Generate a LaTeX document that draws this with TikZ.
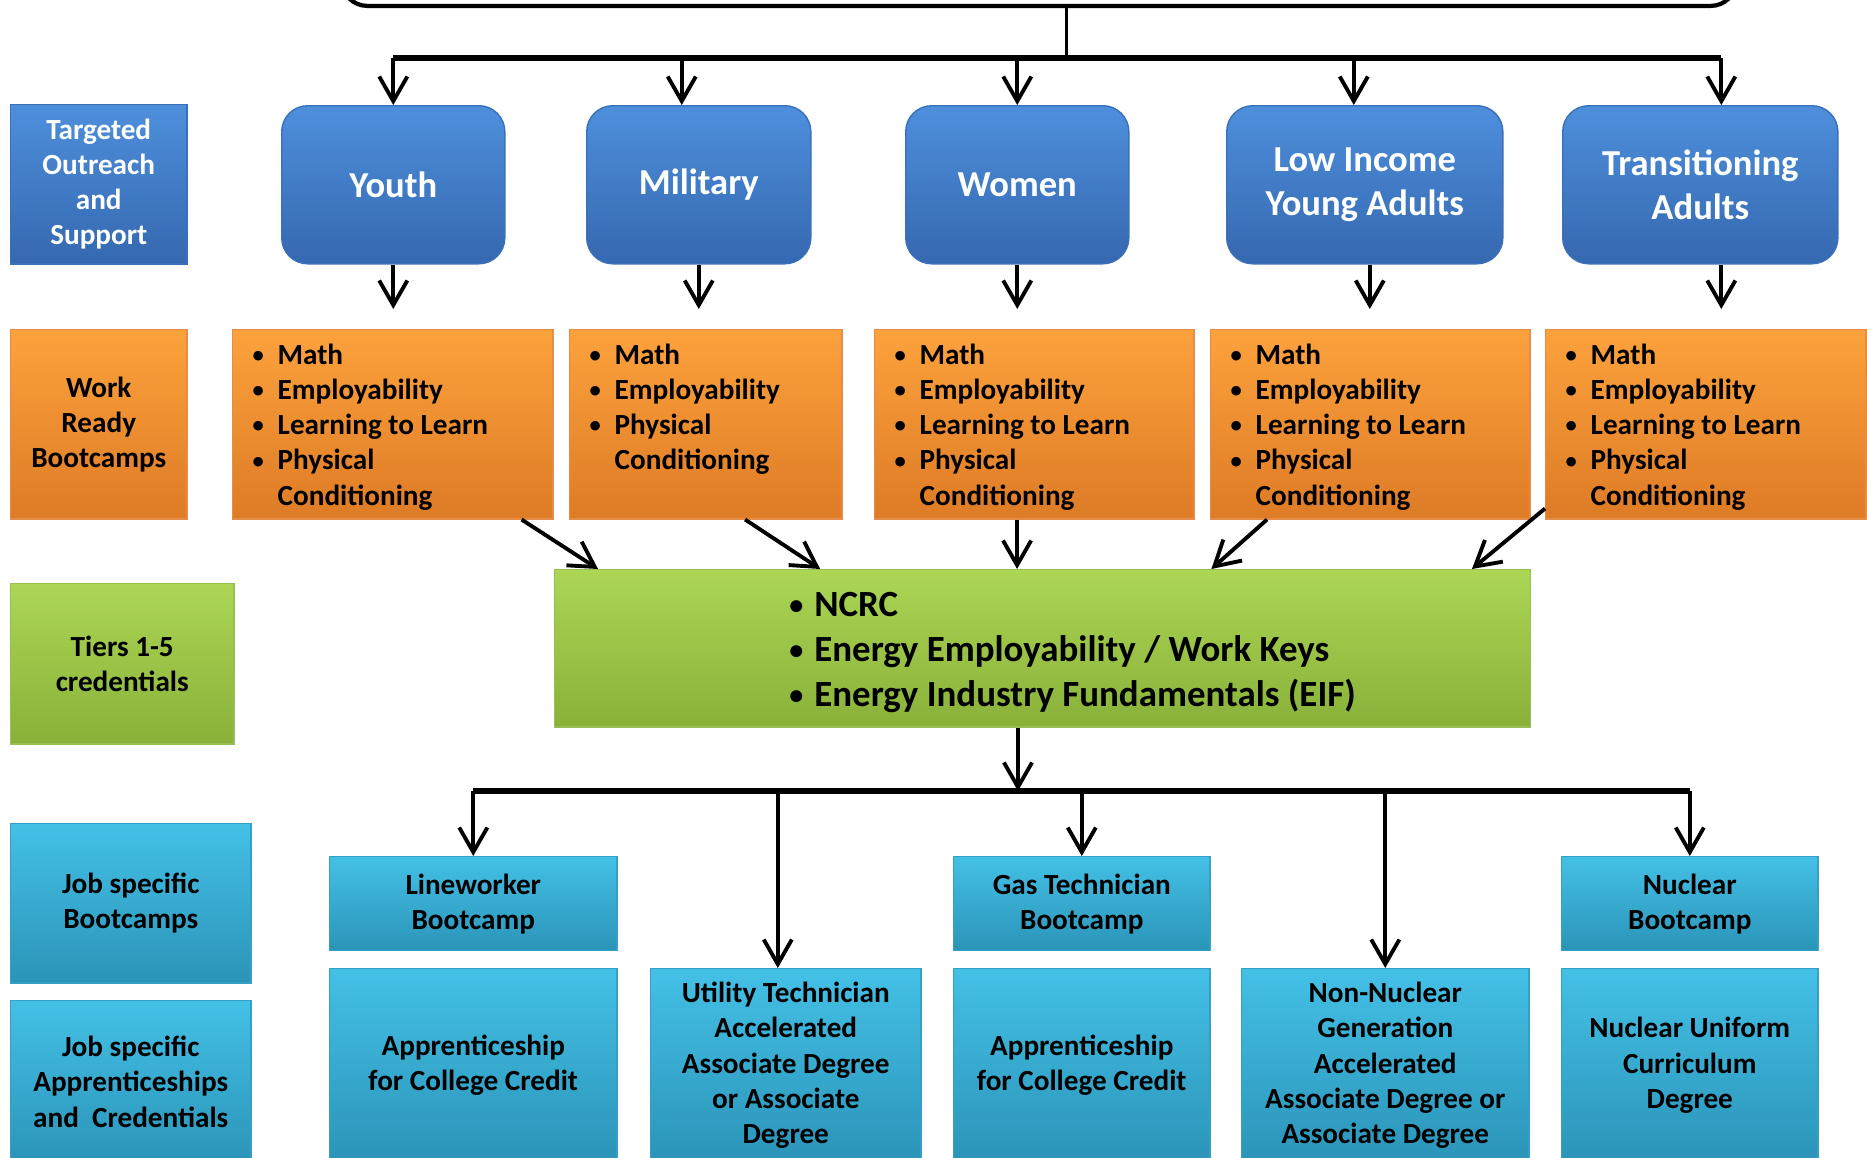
\documentclass[tikz,border=0pt]{standalone}
\usepackage{fontspec}
\setmainfont{Carlito}
\usepackage{tikz}
\usetikzlibrary{calc,arrows.meta}

\definecolor{grpA}{RGB}{78,143,220}
\definecolor{grpB}{RGB}{53,104,176}
\definecolor{grpE}{RGB}{58,112,184}
\definecolor{ornA}{RGB}{252,162,60}
\definecolor{ornB}{RGB}{222,123,38}
\definecolor{ornE}{RGB}{228,140,72}
\definecolor{grnA}{RGB}{172,214,84}
\definecolor{grnB}{RGB}{137,177,58}
\definecolor{grnE}{RGB}{150,190,82}
\definecolor{cynA}{RGB}{68,192,230}
\definecolor{cynB}{RGB}{43,148,184}
\definecolor{cynE}{RGB}{52,160,200}

% small bullet, as in the slide
\newcommand{\bul}{\makebox[7.1pt][l]{\raisebox{0.5pt}{\fontsize{6.4}{6.4}\selectfont\textbullet}}}
\newcommand{\bigbul}{\makebox[7.1pt][l]{\raisebox{0.6pt}{\fontsize{8}{8}\selectfont\textbullet}}}

\newcommand{\skillsfour}{\begin{tabular}{@{}l@{}l@{}}
\bul & Math\\
\bul & Employability\\
\bul & Learning to Learn\\
\bul & Physical\\
 & Conditioning
\end{tabular}}
\newcommand{\skillsthree}{\begin{tabular}{@{}l@{}l@{}}
\bul & Math\\
\bul & Employability\\
\bul & Physical\\
 & Conditioning
\end{tabular}}

\begin{document}
\begin{tikzpicture}[x=0.01cm, y=-0.01cm,
    boxsize/.style 2 args={minimum width=#1, minimum height=#2, anchor=north west, inner sep=0pt},
    small/.style={font=\fontsize{8.3}{10}\selectfont\bfseries, align=center},
    big/.style={font=\fontsize{10.4}{12.6}\selectfont\bfseries, align=center},
    grp/.style={big, rounded corners=0.26cm, top color=grpA, bottom color=grpB, draw=grpE, thin, text=white},
    side/.style={small, top color=grpA, bottom color=grpB, draw=grpE, thin, text=white},
    orng/.style={small, top color=ornA, bottom color=ornB, draw=ornE, thin},
    grn/.style={small, top color=grnA, bottom color=grnB, draw=grnE, thin},
    cyn/.style={small, top color=cynA, bottom color=cynB, draw=cynE, thin},
    lst/.style={small, inner sep=0pt, anchor=north west},
    stem/.style={line width=1.1pt},
    arr/.style={line width=1.1pt, -{Straight Barb[length=7pt, width=8pt]}},
  ]
    \useasboundingbox (0,0) rectangle (1867,1157);
    \clip (0,0) rectangle (1867,1157);

    % programme box, only its bottom edge shows
    \node[draw, line width=1.2pt, rounded corners=0.25cm, boxsize={13.93cm}{1cm}, anchor=south west] (prog) at (340,8) {};

    % left column
    \node[side, boxsize={1.76cm}{1.59cm}] (side1) at (10,104) {Targeted\\Outreach\\and\\Support};
    \node[orng, boxsize={1.76cm}{1.89cm}] (side2) at (10,329) {Work\\Ready\\Bootcamps};
    \node[grn, boxsize={2.23cm}{1.60cm}] (side3) at (10,583) {Tiers 1-5\\credentials};
    \node[cyn, boxsize={2.40cm}{1.59cm}] (side4) at (10,823) {Job specific\\Bootcamps};
    \node[cyn, boxsize={2.40cm}{1.62cm}] (side5) at (10,1000) {Job specific\\Apprenticeships\\and\ \ Credentials};

    % target groups
    \node[grp, boxsize={2.23cm}{1.58cm}] (youth) at (281,105) {Youth};
    \node[grp, boxsize={2.24cm}{1.58cm}] (military) at (586,105) {Military};
    \node[grp, boxsize={2.23cm}{1.58cm}] (women) at (905,105) {Women};
    \node[grp, boxsize={2.76cm}{1.58cm}] (lowinc) at (1226,105) {Low Income\\Young Adults};
    \node[grp, boxsize={2.75cm}{1.58cm}] (trans) at (1562,105) {Transitioning\\Adults};

    % bootcamp contents
    \node[orng, boxsize={3.20cm}{1.89cm}] (youthl) at (232,329) {};
    \node[orng, boxsize={2.72cm}{1.89cm}] (miltl) at (569,329) {};
    \node[orng, boxsize={3.19cm}{1.89cm}] (womenl) at (874,329) {};
    \node[orng, boxsize={3.19cm}{1.89cm}] (lowl) at (1210,329) {};
    \node[orng, boxsize={3.20cm}{1.89cm}] (transl) at (1545,329) {};
    \node[lst] (youtht) at ([xshift=0.2cm,yshift=-0.1cm]youthl.north west) {\skillsfour};
    \node[lst] (miltt) at ([xshift=0.2cm,yshift=-0.1cm]miltl.north west) {\skillsthree};
    \node[lst] (woment) at ([xshift=0.2cm,yshift=-0.1cm]womenl.north west) {\skillsfour};
    \node[lst] (lowt) at ([xshift=0.2cm,yshift=-0.1cm]lowl.north west) {\skillsfour};
    \node[lst] (transt) at ([xshift=0.2cm,yshift=-0.1cm]transl.north west) {\skillsfour};

    % credentials
    \node[grn, boxsize={9.75cm}{1.57cm}] (green) at (554,569) {};
    \node[font=\fontsize{10.5}{12.8}\selectfont\bfseries, inner sep=0pt] (greent) at ([xshift=0.3cm,yshift=-0.04cm]green.center)
      {\begin{tabular}{@{}l@{}l@{}}
        \bigbul & NCRC\\
        \bigbul & Energy Employability / Work Keys\\
        \bigbul & Energy Industry Fundamentals (EIF)
      \end{tabular}};

    % job specific paths
    \node[cyn, boxsize={2.87cm}{0.94cm}] (linew) at (329,856) {Lineworker\\Bootcamp};
    \node[cyn, boxsize={2.87cm}{1.93cm}] (appl) at (329,968) {Apprenticeship\\for College Credit};
    \node[cyn, boxsize={2.70cm}{1.93cm}] (util) at (650,968) {Utility Technician\\Accelerated\\Associate Degree\\or Associate\\Degree};
    \node[cyn, boxsize={2.56cm}{0.94cm}] (gas) at (953,856) {Gas Technician\\Bootcamp};
    \node[cyn, boxsize={2.56cm}{1.93cm}] (appr) at (953,968) {Apprenticeship\\for College Credit};
    \node[cyn, boxsize={2.87cm}{1.93cm}] (nonnuc) at (1241,968) {Non-Nuclear\\Generation\\Accelerated\\Associate Degree or\\Associate Degree};
    \node[cyn, boxsize={2.56cm}{0.94cm}] (nucb) at (1561,856) {Nuclear\\Bootcamp};
    \node[cyn, boxsize={2.56cm}{1.93cm}] (nucu) at (1561,968) {Nuclear Uniform\\Curriculum\\Degree};

    % top distribution
    \coordinate (bar1) at (0,58);
    \coordinate (progout) at ([xshift=0.275cm]prog.south);
    \coordinate (milin) at ([xshift=-0.17cm]military.north);
    \coordinate (lowin) at ([xshift=-0.11cm]lowinc.north);
    \coordinate (transin) at ([xshift=0.21cm]trans.north);
    \draw[stem] (progout) -- (progout |- bar1);
    \draw[line width=1.9pt] (youth.north |- bar1) -- (transin |- bar1);
    \draw[arr] (youth.north |- bar1) -- (youth.north);
    \draw[arr] (milin |- bar1) -- (milin);
    \draw[arr] (women.north |- bar1) -- (women.north);
    \draw[arr] (lowin |- bar1) -- (lowin);
    \draw[arr] (transin |- bar1) -- (transin);

    % groups to bootcamps
    \coordinate (lowout) at ([xshift=0.05cm]lowinc.south);
    \coordinate (transout) at ([xshift=0.21cm]trans.south);
    \draw[arr, shorten >=0.2cm] (youth.south) -- (youth.south |- youthl.north);
    \draw[arr, shorten >=0.2cm] (military.south) -- (military.south |- miltl.north);
    \draw[arr, shorten >=0.2cm] (women.south) -- (women.south |- womenl.north);
    \draw[arr, shorten >=0.2cm] (lowout) -- (lowout |- lowl.north);
    \draw[arr, shorten >=0.2cm] (transout) -- (transout |- transl.north);

    % bootcamps to credentials
    \coordinate (wdown) at ([xshift=1.43cm]womenl.south west);
    \draw[arr] ([xshift=-0.32cm]youthl.south east) -- ([xshift=0.44cm]green.north west);
    \draw[arr] ([xshift=1.76cm]miltl.south west) -- ([xshift=2.66cm]green.north west);
    \draw[arr] (wdown) -- (wdown |- green.north);
    \draw[arr] ([xshift=0.57cm]lowl.south west) -- ([xshift=6.57cm]green.north west);
    \draw[arr] ([yshift=0.11cm]transl.south west) -- ([xshift=-0.59cm]green.north east);

    % credentials to job specific paths
    \coordinate (bar2) at (0,791);
    \coordinate (gdown) at ([xshift=-0.245cm]green.south);
    \coordinate (utilin) at ([xshift=-0.08cm]util.north);
    \draw[arr] (gdown) -- (gdown |- bar2);
    \draw[line width=1.5pt] (linew.north |- bar2) -- (nucb.north |- bar2);
    \draw[arr] (linew.north |- bar2) -- (linew.north);
    \draw[arr] (utilin |- bar2) -- (utilin);
    \draw[arr] (gas.north |- bar2) -- (gas.north);
    \draw[arr] (nonnuc.north |- bar2) -- (nonnuc.north);
    \draw[arr] (nucb.north |- bar2) -- (nucb.north);
\end{tikzpicture}
\end{document}
